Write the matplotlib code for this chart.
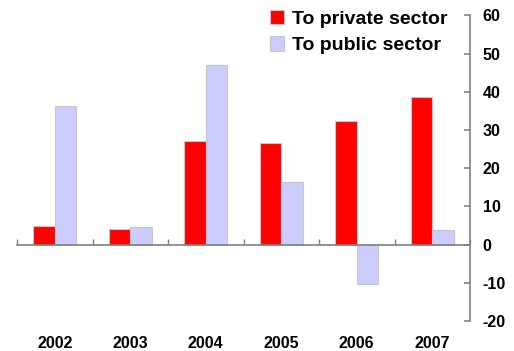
import matplotlib
matplotlib.use("Agg")
import matplotlib.pyplot as plt
import numpy as np
from matplotlib.patches import Patch
from matplotlib.ticker import FixedLocator

plt.rcParams['font.family'] = ['Liberation Sans', 'DejaVu Sans']
plt.rcParams['font.weight'] = 'bold'

years = ['2002', '2003', '2004', '2005', '2006', '2007']
private_sector = [4.9, 4.0, 27.0, 26.5, 32.3, 38.7]
public_sector = [36.3, 4.6, 47.0, 16.5, -10.4, 3.8]
series_labels = ['To private sector', 'To public sector']
y_ticks = [-20, -10, 0, 10, 20, 30, 40, 50, 60]

red = '#ff0000'
lilac = '#ccccff'
edge = '#c8c8c8'
axis_grey = '#808080'

fig = plt.figure(figsize=(5.14, 3.51), dpi=100)
ax = fig.add_axes([17 / 514, 1 - 321 / 351, (470 - 17) / 514, (321 - 15.3) / 351])

x = np.arange(len(years))
w = 0.285
ax.bar(x - w / 2, private_sector, w, color=red, edgecolor=edge, linewidth=0.8, zorder=2)
ax.bar(x + w / 2, public_sector, w, color=lilac, edgecolor=edge, linewidth=0.8, zorder=2)

ax.set_xlim(-0.5, len(years) - 0.5)
ax.set_ylim(-20, 60)

# value axis on the right
ax.yaxis.tick_right()
ax.set_yticks(y_ticks)
ax.set_yticklabels([str(v) for v in y_ticks], fontsize=11.5, fontweight='bold')
ax.tick_params(axis='y', direction='in', length=4, width=1.2, color=axis_grey, pad=9)
for side in ['top', 'left']:
    ax.spines[side].set_visible(False)
ax.spines['right'].set_color(axis_grey)
ax.spines['right'].set_linewidth(1.2)

# category axis drawn along zero with divider ticks
ax.spines['bottom'].set_position(('data', 0))
ax.spines['bottom'].set_color(axis_grey)
ax.spines['bottom'].set_linewidth(1.2)
ax.set_xticks([])
ax.xaxis.set_minor_locator(FixedLocator(np.arange(-0.5, len(years), 1.0)))
ax.tick_params(axis='x', which='minor', direction='in', length=4, width=1.0, color=axis_grey)

# year labels along the bottom edge
sec = ax.secondary_xaxis('bottom')
sec.set_xticks(x)
sec.set_xticklabels(years, fontsize=11.5, fontweight='bold')
sec.tick_params(length=0, pad=10.5)
sec.spines['bottom'].set_visible(False)

handles = [Patch(facecolor=red, edgecolor=edge, linewidth=0.8),
           Patch(facecolor=lilac, edgecolor=edge, linewidth=0.8)]
fig.legend(handles, series_labels, loc='upper left', bbox_to_anchor=(264 / 514, 1 - 4 / 351),
           frameon=False, prop={'size': 14, 'weight': 'bold'},
           handlelength=0.75, handleheight=0.75, handletextpad=0.4, labelspacing=0.45,
           borderaxespad=0, borderpad=0.3)

fig.savefig('out.png', dpi=100)
